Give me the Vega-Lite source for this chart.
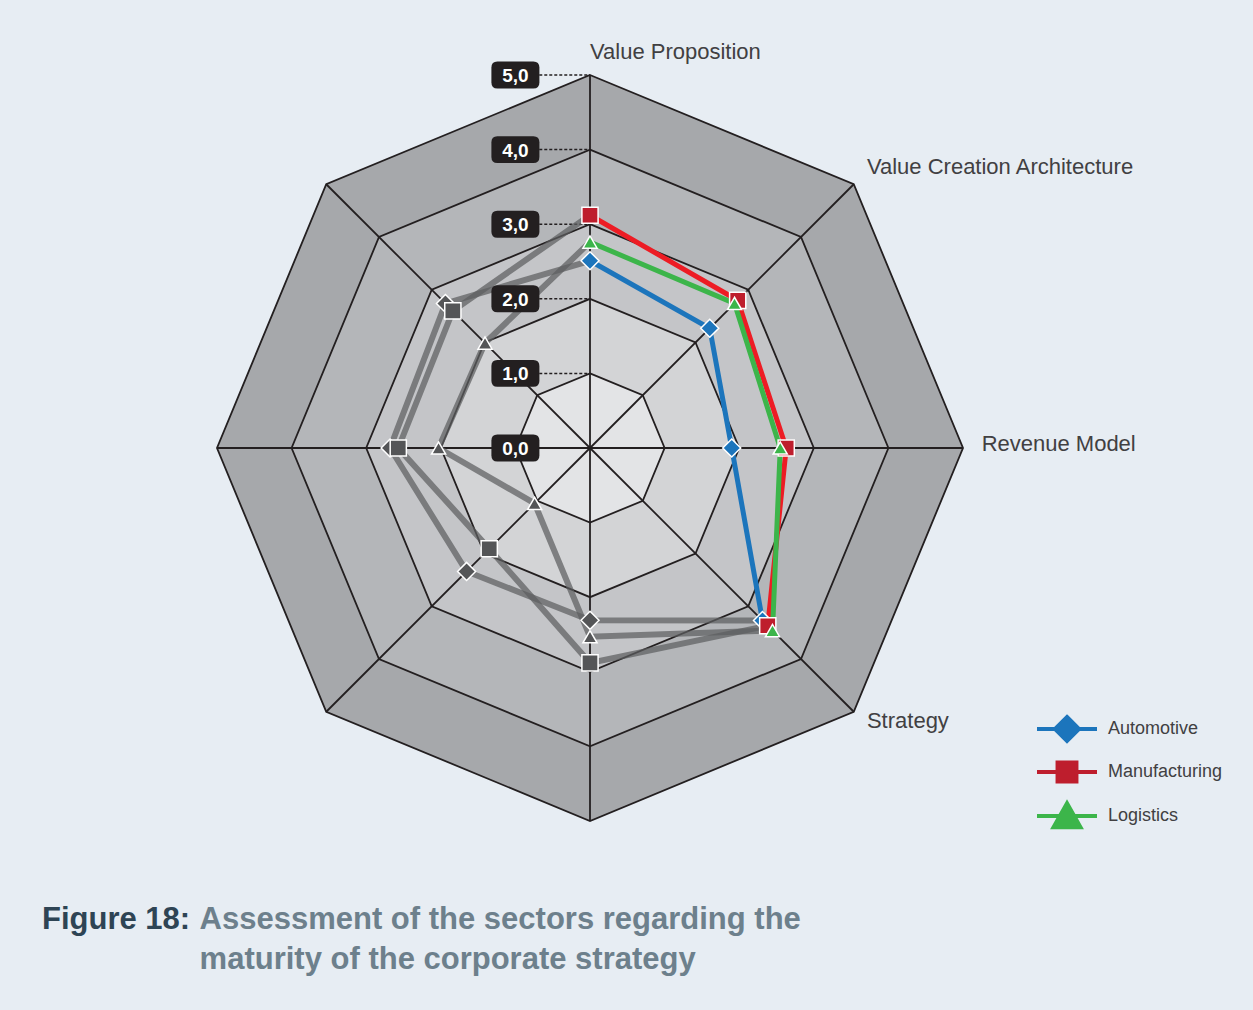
{
  "$schema": "https://vega.github.io/schema/vega-lite/v6.json",
  "width": 746,
  "height": 746,
  "autosize": "none",
  "padding": {"left": 217, "top": 75, "right": 290, "bottom": 189},
  "background": "#e7edf3",
  "config": {"view": {"stroke": null}},
  "title": {
    "text": "Figure 18:",
    "subtitle": ["\u200b\u2003\u2003\u2003\u2003\u2003\u200aAssessment of the sectors regarding the", "\u200b\u2003\u2003\u2003\u2003\u2003\u200amaturity of the corporate strategy"],
    "orient": "bottom",
    "anchor": "start",
    "frame": "group",
    "dx": -175,
    "offset": 69,
    "font": "Liberation Sans",
    "fontSize": 31,
    "fontWeight": "bold",
    "color": "#2e4454",
    "subtitleFont": "Liberation Sans",
    "subtitleFontSize": 31,
    "subtitleFontWeight": "bold",
    "subtitleColor": "#6d808c",
    "subtitlePadding": -31,
    "subtitleLineHeight": 40
  },
  "resolve": {"scale": {"fill": "independent"}, "legend": {"fill": "independent"}},
  "datasets": {
    "scores": [
      {"series": "Automotive", "k": 0, "value": 2.51},
      {"series": "Automotive", "k": 1, "value": 2.27},
      {"series": "Automotive", "k": 2, "value": 1.90},
      {"series": "Automotive", "k": 3, "value": 3.27},
      {"series": "Automotive", "k": 4, "value": 2.31},
      {"series": "Automotive", "k": 5, "value": 2.34},
      {"series": "Automotive", "k": 6, "value": 2.68},
      {"series": "Automotive", "k": 7, "value": 2.74},
      {"series": "Manufacturing", "k": 0, "value": 3.12},
      {"series": "Manufacturing", "k": 1, "value": 2.80},
      {"series": "Manufacturing", "k": 2, "value": 2.63},
      {"series": "Manufacturing", "k": 3, "value": 3.37},
      {"series": "Manufacturing", "k": 4, "value": 2.88},
      {"series": "Manufacturing", "k": 5, "value": 1.91},
      {"series": "Manufacturing", "k": 6, "value": 2.57},
      {"series": "Manufacturing", "k": 7, "value": 2.60},
      {"series": "Logistics", "k": 0, "value": 2.76},
      {"series": "Logistics", "k": 1, "value": 2.74},
      {"series": "Logistics", "k": 2, "value": 2.55},
      {"series": "Logistics", "k": 3, "value": 3.46},
      {"series": "Logistics", "k": 4, "value": 2.53},
      {"series": "Logistics", "k": 5, "value": 1.05},
      {"series": "Logistics", "k": 6, "value": 2.03},
      {"series": "Logistics", "k": 7, "value": 1.99}
    ],
    "rings": [
      {"level": 5, "k": [0, 1, 2, 3, 4, 5, 6, 7]},
      {"level": 4, "k": [0, 1, 2, 3, 4, 5, 6, 7]},
      {"level": 3, "k": [0, 1, 2, 3, 4, 5, 6, 7]},
      {"level": 2, "k": [0, 1, 2, 3, 4, 5, 6, 7]},
      {"level": 1, "k": [0, 1, 2, 3, 4, 5, 6, 7]}
    ],
    "spokes": [
      {"k": 0}, {"k": 1}, {"k": 2}, {"k": 3}, {"k": 4}, {"k": 5}, {"k": 6}, {"k": 7}
    ],
    "ticks": [
      {"level": 0, "label": "0,0"},
      {"level": 1, "label": "1,0"},
      {"level": 2, "label": "2,0"},
      {"level": 3, "label": "3,0"},
      {"level": 4, "label": "4,0"},
      {"level": 5, "label": "5,0"}
    ],
    "axes": [
      {"k": 0, "label": "Value Proposition"},
      {"k": 1, "label": "Value Creation Architecture"},
      {"k": 2, "label": "Revenue Model"},
      {"k": 3, "label": "Strategy"}
    ]
  },
  "layer": [
    {
      "data": {"name": "rings"},
      "transform": [
        {"flatten": ["k"]},
        {"calculate": "datum.level * sin(datum.k * PI / 4)", "as": "px"},
        {"calculate": "datum.level * cos(datum.k * PI / 4)", "as": "py"}
      ],
      "mark": {"type": "line", "interpolate": "linear-closed", "stroke": "#231f20", "strokeWidth": 1.8},
      "encoding": {
        "x": {"field": "px", "type": "quantitative", "scale": {"domain": [-5, 5]}, "axis": null},
        "y": {"field": "py", "type": "quantitative", "scale": {"domain": [-5, 5]}, "axis": null},
        "order": {"field": "k"},
        "fill": {"field": "level", "type": "ordinal", "scale": {"domain": [5, 4, 3, 2, 1], "range": ["#a6a8ab", "#b4b6b9", "#c4c5c8", "#d3d4d6", "#e3e4e6"]}, "legend": null}
      }
    },
    {
      "data": {"name": "spokes"},
      "transform": [
        {"calculate": "5 * sin(datum.k * PI / 4)", "as": "px"},
        {"calculate": "5 * cos(datum.k * PI / 4)", "as": "py"}
      ],
      "mark": {"type": "rule", "stroke": "#231f20", "strokeWidth": 1.8},
      "encoding": {
        "x": {"field": "px", "type": "quantitative", "scale": {"domain": [-5, 5]}, "axis": null},
        "y": {"field": "py", "type": "quantitative", "scale": {"domain": [-5, 5]}, "axis": null},
        "x2": {"datum": 0},
        "y2": {"datum": 0}
      }
    },
    {
      "data": {"name": "ticks"},
      "transform": [{"filter": "datum.level > 0"}],
      "mark": {"type": "rule", "stroke": "#231f20", "strokeWidth": 1.5, "strokeDash": [3, 2]},
      "encoding": {
        "x": {"datum": -0.68, "type": "quantitative", "scale": {"domain": [-5, 5]}, "axis": null},
        "x2": {"datum": 0},
        "y": {"field": "level", "type": "quantitative", "scale": {"domain": [-5, 5]}, "axis": null}
      }
    },
    {
      "data": {"name": "scores"},
      "transform": [
        {"calculate": "datum.k == 0 ? 8 : datum.k", "as": "ord"},
        {"filter": "datum.ord >= 3"},
        {"calculate": "datum.value * sin(datum.k * PI / 4)", "as": "px"},
        {"calculate": "datum.value * cos(datum.k * PI / 4)", "as": "py"}
      ],
      "mark": {"type": "line", "stroke": "#5d5e60", "strokeWidth": 6, "opacity": 0.72},
      "encoding": {
        "x": {"field": "px", "type": "quantitative", "scale": {"domain": [-5, 5]}, "axis": null},
        "y": {"field": "py", "type": "quantitative", "scale": {"domain": [-5, 5]}, "axis": null},
        "detail": {"field": "series"},
        "order": {"field": "ord"}
      }
    },
    {
      "data": {"name": "scores"},
      "transform": [
        {"filter": "datum.k <= 3"},
        {"calculate": "datum.value * sin(datum.k * PI / 4)", "as": "px"},
        {"calculate": "datum.value * cos(datum.k * PI / 4)", "as": "py"}
      ],
      "mark": {"type": "line", "strokeWidth": 5},
      "encoding": {
        "x": {"field": "px", "type": "quantitative", "scale": {"domain": [-5, 5]}, "axis": null},
        "y": {"field": "py", "type": "quantitative", "scale": {"domain": [-5, 5]}, "axis": null},
        "stroke": {"field": "series", "type": "nominal", "scale": {"domain": ["Automotive", "Manufacturing", "Logistics"], "range": ["#1c75bc", "#ed1c24", "#3cb54a"]}, "legend": null},
        "order": {"field": "k"}
      }
    },
    {
      "data": {"name": "ticks"},
      "mark": {"type": "point", "filled": true, "fill": "#231f20", "opacity": 1, "size": 2304, "shape": "M-0.75,-0.56L0.75,-0.56Q1,-0.56 1,-0.31L1,0.31Q1,0.56 0.75,0.56L-0.75,0.56Q-1,0.56 -1,0.31L-1,-0.31Q-1,-0.56 -0.75,-0.56Z"},
      "encoding": {
        "x": {"datum": -1, "type": "quantitative", "scale": {"domain": [-5, 5]}, "axis": null},
        "y": {"field": "level", "type": "quantitative", "scale": {"domain": [-5, 5]}, "axis": null}
      }
    },
    {
      "data": {"name": "ticks"},
      "mark": {"type": "text", "color": "#ffffff", "font": "Liberation Sans", "fontWeight": "bold", "fontSize": 19, "align": "center", "baseline": "middle", "dy": 1},
      "encoding": {
        "x": {"datum": -1, "type": "quantitative", "scale": {"domain": [-5, 5]}, "axis": null},
        "y": {"field": "level", "type": "quantitative", "scale": {"domain": [-5, 5]}, "axis": null},
        "text": {"field": "label"}
      }
    },
    {
      "data": {"name": "scores"},
      "transform": [
        {"filter": "datum.k >= 4"},
        {"calculate": "datum.value * sin(datum.k * PI / 4)", "as": "px"},
        {"calculate": "datum.value * cos(datum.k * PI / 4)", "as": "py"}
      ],
      "mark": {"type": "point", "filled": true, "fill": "#545557", "stroke": "#ffffff", "strokeWidth": 1.5, "opacity": 1},
      "encoding": {
        "x": {"field": "px", "type": "quantitative", "scale": {"domain": [-5, 5]}, "axis": null},
        "y": {"field": "py", "type": "quantitative", "scale": {"domain": [-5, 5]}, "axis": null},
        "shape": {"field": "series", "type": "nominal", "scale": {"domain": ["Automotive", "Manufacturing", "Logistics"], "range": ["diamond", "square", "triangle-up"]}, "legend": null},
        "size": {"field": "series", "type": "nominal", "scale": {"domain": ["Automotive", "Manufacturing", "Logistics"], "range": [324, 200, 324]}, "legend": null}
      }
    },
    {
      "data": {"name": "scores"},
      "transform": [
        {"filter": "datum.k <= 3"},
        {"calculate": "datum.value * sin(datum.k * PI / 4)", "as": "px"},
        {"calculate": "datum.value * cos(datum.k * PI / 4)", "as": "py"}
      ],
      "mark": {"type": "point", "filled": true, "stroke": "#ffffff", "strokeWidth": 1.5, "opacity": 1},
      "encoding": {
        "x": {"field": "px", "type": "quantitative", "scale": {"domain": [-5, 5]}, "axis": null},
        "y": {"field": "py", "type": "quantitative", "scale": {"domain": [-5, 5]}, "axis": null},
        "shape": {"field": "series", "type": "nominal", "scale": {"domain": ["Automotive", "Manufacturing", "Logistics"], "range": ["diamond", "square", "triangle-up"]}, "legend": null},
        "size": {"field": "series", "type": "nominal", "scale": {"domain": ["Automotive", "Manufacturing", "Logistics"], "range": [324, 200, 324]}, "legend": null},
        "fill": {
          "field": "series", "type": "nominal",
          "scale": {"domain": ["Automotive", "Manufacturing", "Logistics"], "range": ["#1c75bc", "#be1e2d", "#3cb54a"]},
          "legend": {
            "title": null,
            "orient": "none",
            "legendX": 833,
            "legendY": 637,
            "padding": 0,
            "symbolSize": 900,
            "symbolStrokeWidth": 4,
            "rowPadding": 5,
            "labelOffset": 24,
            "labelFont": "Liberation Sans",
            "labelFontSize": 18,
            "labelColor": "#414042",
            "encoding": {
              "symbols": {
                "shape": {"value": {"expr": "datum.value === 'Automotive' ? 'M-2,0L2,0M0,-0.8L0.8,0L0,0.8L-0.8,0Z' : datum.value === 'Manufacturing' ? 'M-2,0L2,0M-0.63,-0.63L0.63,-0.63L0.63,0.63L-0.63,0.63Z' : 'M-2,0L2,0M0,-0.85L0.9,0.75L-0.9,0.75Z'"}},
                "stroke": {"value": {"expr": "datum.value === 'Automotive' ? '#1c75bc' : datum.value === 'Manufacturing' ? '#be1e2d' : '#3cb54a'"}},
                "strokeWidth": {"value": 4},
                "size": {"value": 900},
                "opacity": {"value": 1}
              }
            }
          }
        }
      }
    },
    {
      "data": {"name": "axes"},
      "transform": [
        {"calculate": "5.25 * sin(datum.k * PI / 4)", "as": "px"},
        {"calculate": "5.25 * cos(datum.k * PI / 4)", "as": "py"}
      ],
      "mark": {"type": "text", "align": "left", "baseline": "middle", "dy": -4, "font": "Liberation Sans", "fontSize": 22, "color": "#414042"},
      "encoding": {
        "x": {"field": "px", "type": "quantitative", "scale": {"domain": [-5, 5]}, "axis": null},
        "y": {"field": "py", "type": "quantitative", "scale": {"domain": [-5, 5]}, "axis": null},
        "text": {"field": "label"}
      }
    }
  ]
}
